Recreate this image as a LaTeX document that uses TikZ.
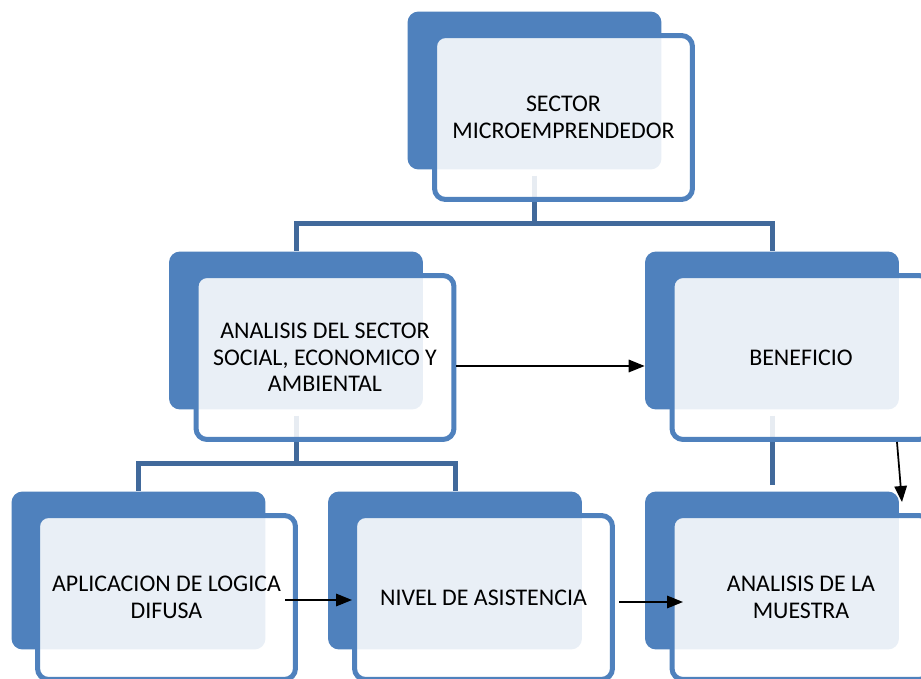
\documentclass[tikz,border=0pt]{standalone}
\usepackage{fontspec}
\setmainfont{Carlito}
\usepackage{tikz}
\usetikzlibrary{arrows.meta}
\definecolor{azul}{HTML}{4F81BD}
\definecolor{azuloscuro}{HTML}{41699B}

\begin{document}
\begin{tikzpicture}[x=0.02cm,y=-0.02cm,
	fondo/.style={fill=azul,rounded corners=0.22cm,minimum width=5.08cm,minimum height=3.16cm,inner sep=0pt},
	frente/.style={draw=azul,line width=0.1cm,fill=white,fill opacity=0.88,text opacity=1,rounded corners=0.22cm,
		minimum width=5.16cm,minimum height=3.28cm,inner sep=0pt,align=center,font=\fontsize{13.6}{15.1}\selectfont},
	linea/.style={draw=azuloscuro,line width=0.1cm},
	flecha/.style={draw=black,line width=0.035cm,-{Triangle[length=0.32cm,width=0.25cm]}}]
	\clip (0,0) rectangle (921,679);
	\fill[white] (0,0) rectangle (921,679);
	% cajas de fondo
	\node[fondo] (sector-f) at (534.5,90.5) {};
	\node[fondo] (analisis-f) at (296,330.5) {};
	\node[fondo] (beneficio-f) at (772,330.5) {};
	\node[fondo] (logica-f) at (138.5,570.5) {};
	\node[fondo] (asistencia-f) at (455,570.5) {};
	\node[fondo] (muestra-f) at (772,570.5) {};
	% lineas de jerarquia
	\draw[linea] ([yshift=-0.12cm]sector-f.south) -- ++(0,48) -| (analisis-f.north);
	\draw[linea] ([yshift=-0.12cm]sector-f.south) -- ++(0,48) -| (beneficio-f.north);
	\draw[linea] ([yshift=-0.12cm]analisis-f.south) -- ++(0,48) -| (logica-f.north);
	\draw[linea] ([yshift=-0.12cm]analisis-f.south) -- ++(0,48) -| (asistencia-f.north);
	\draw[linea] ([yshift=-0.12cm]beneficio-f.south) -- ([yshift=0.12cm]muestra-f.north);
	% cajas de frente
	\node[frente] (sector) at (563.5,117.5) {SECTOR\\MICROEMPRENDEDOR};
	\node[frente] (analisis) at (325,357.5) {ANALISIS DEL SECTOR\\SOCIAL, ECONOMICO Y\\AMBIENTAL};
	\node[frente] (beneficio) at (801,357.5) {BENEFICIO};
	\node[frente] (logica) at (166.5,597.5) {APLICACION DE LOGICA\\DIFUSA};
	\node[frente] (asistencia) at (483.5,597.5) {NIVEL DE ASISTENCIA};
	\node[frente] (muestra) at (801,597.5) {ANALISIS DE LA\\MUESTRA};
	% flechas
	\draw[flecha] ([yshift=-0.17cm]analisis.east) -- ([yshift=-0.17cm]analisis.east -| beneficio-f.west);
	\draw[flecha] ([xshift=1.92cm]beneficio.south) -- ([xshift=2.02cm,yshift=0.22cm]muestra.north);
	\draw[flecha] ([xshift=-0.25cm,yshift=-0.05cm]logica.east) -- ([yshift=-0.05cm]asistencia.west);
	\draw[flecha] ([xshift=0.09cm,yshift=-0.09cm]asistencia.east) -- ([xshift=0.27cm,yshift=-0.09cm]muestra.west);
\end{tikzpicture}
\end{document}
